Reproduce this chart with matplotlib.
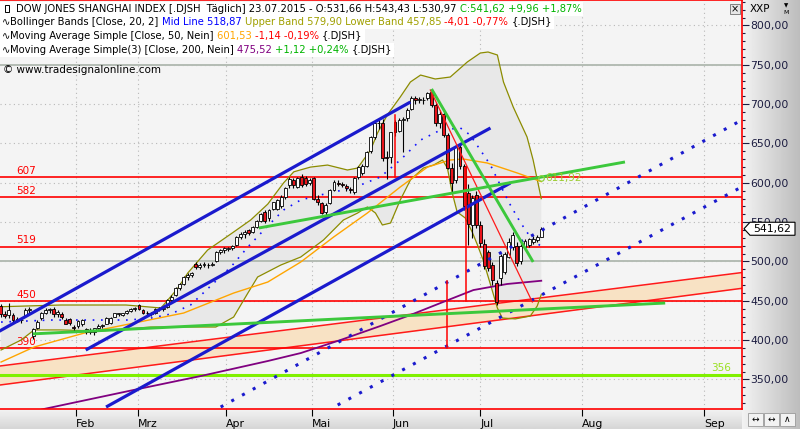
import matplotlib

matplotlib.use("Agg")

import matplotlib.pyplot as plt  # noqa: E402
import matplotlib.ticker as mticker  # noqa: E402
import numpy as np  # noqa: E402
from matplotlib.patches import Polygon, Rectangle  # noqa: E402

plt.rcParams["font.family"] = ["DejaVu Sans"]

W, H = 800, 429

# Daily sessions, index 0 = 05.01.2015; first visible session is index 2.
first_session = 2
opens = [
    443, 433, 432, 432, 427, 425, 432, 438, 405, 416,
    428, 435, 438, 440, 433, 433, 426, 427, 417, 418,
    420, 414, 411, 410, 416, 418, 421, 422, 430, 433,
    432, 434, 437, 439, 445, 438, 435, 434, 434, 440,
    439, 442, 451, 457, 466, 472, 480, 483, 497, 493,
    496, 495, 496, 500, 512, 514, 516, 517, 521, 531,
    535, 540, 538, 544, 552, 563, 555, 567, 567, 570,
    582, 597, 603, 595, 608, 606, 600, 606, 580, 574,
    563, 574, 591, 600, 598, 596, 592, 588, 607, 612,
    622, 640, 658, 676, 676, 633, 633, 677, 666, 680,
    682, 694, 708, 705, 705, 708, 715, 699, 676, 688,
    661, 619, 604, 646, 621, 587, 546, 584, 546, 522,
    512, 496, 473, 479, 487, 506, 518, 520, 501, 519,
    521, 525, 527, 531.66,
]
highs = [
    446, 437, 447, 434, 429, 428, 441, 442, 416, 425,
    436, 441, 441, 442, 438, 436, 428, 428, 419, 426,
    427, 416, 415, 416, 420, 420, 429, 430, 435, 435,
    435, 438, 441, 442, 446, 440, 437, 436, 441, 442,
    443, 452, 457, 467, 473, 481, 485, 487, 499, 498,
    499, 498, 499, 513, 516, 518, 519, 521, 532, 537,
    540, 541, 545, 553, 562, 565, 567, 576, 579, 584,
    595, 608, 606, 608, 611, 609, 606, 608, 584, 576,
    574, 592, 603, 603, 601, 598, 595, 607, 622, 624,
    640, 659, 677, 680, 681, 640, 665, 680, 683, 684,
    695, 710, 711, 709, 709, 716, 718, 702, 692, 692,
    663, 625, 648, 650, 624, 598, 585, 590, 552, 528,
    515, 499, 476, 510, 512, 530, 537, 525, 522, 529,
    530, 532, 534, 543.43,
]
lows = [
    430, 428, 428, 423, 423, 422, 430, 435, 402, 414,
    426, 433, 435, 430, 430, 427, 420, 419, 410, 416,
    418, 408, 408, 407, 414, 416, 420, 421, 429, 431,
    431, 433, 436, 437, 438, 433, 432, 431, 433, 437,
    437, 441, 449, 456, 464, 470, 477, 480, 490, 491,
    493, 492, 494, 499, 509, 511, 513, 515, 520, 528,
    530, 534, 536, 542, 550, 549, 552, 565, 565, 568,
    580, 594, 594, 593, 595, 596, 597, 578, 572, 560,
    558, 573, 589, 596, 595, 590, 587, 586, 605, 610,
    620, 638, 656, 668, 628, 605, 625, 660, 664, 639,
    678, 692, 700, 701, 700, 705, 697, 672, 670, 658,
    617, 587, 600, 618, 566, 521, 530, 543, 518, 490,
    488, 470, 445, 470, 484, 504, 515, 494, 497, 515,
    518, 522, 525, 530.97,
]
closes = [
    433, 431, 438, 426, 426, 426, 438, 439, 414, 423,
    434, 438, 439, 433, 436, 430, 421, 422, 415, 424,
    425, 410, 413, 415, 418, 419, 428, 428, 434, 434,
    434, 437, 440, 441, 440, 435, 434, 433, 440, 439,
    441, 451, 455, 466, 472, 480, 483, 485, 493, 496,
    497, 496, 497, 512, 514, 517, 517, 520, 531, 535,
    537, 536, 544, 552, 561, 552, 565, 575, 578, 582,
    593, 605, 597, 606, 597, 598, 604, 580, 575, 562,
    572, 591, 601, 599, 597, 593, 591, 606, 620, 622,
    639, 658, 676, 676, 631, 631, 664, 664, 680, 680,
    693, 708, 705, 706, 705, 714, 699, 676, 688, 661,
    619, 600, 646, 621, 570, 548, 581, 546, 524, 494,
    492, 476, 449, 507, 510, 525, 534, 498, 520, 526,
    528, 529, 531.66, 541.62,
]

# Bollinger (20, 2) and simple moving averages, sampled along the chart
bb_upper_x = [2.06, 16.8, 32.8, 41.4, 43.1, 45.6, 48.0, 52.9, 55.4, 59.3, 63.5, 67.7,
              71.6, 74.1, 78.2, 82.4, 87.3, 89.8, 93.0, 94.7, 97.1, 100.3, 102.8,
              105.3, 108.9, 112.6, 116.8, 120.0, 121.9, 124.2, 125.7, 128.1, 131.5,
              133.0, 135.0]
bb_upper_v = [442.5, 444.7, 444.7, 440.9, 451.0, 466.3, 485.3, 514.6, 523.5, 537.5,
              552.8, 573.0, 600.0, 614.0, 620.0, 622.6, 616.3, 618.8, 641.7, 663.3,
              686.2, 709.1, 728.2, 737.0, 732.0, 734.5, 753.6, 765.0, 766.3, 762.5,
              728.2, 696.4, 658.3, 629.0, 579.90]
bb_lower_x = [2.06, 7.0, 10.2, 16.8, 26.6, 38.9, 54.9, 59.3, 62.8, 65.2, 70.9, 75.8,
              81.4, 86.3, 89.8, 92.2, 94.2, 95.9, 97.9, 100.3, 102.8, 106.0, 108.5,
              110.7, 111.9, 113.1, 114.3, 116.3, 118.0, 119.3, 120.7, 122.9, 124.2,
              125.4, 128.6, 132.3, 134.0, 135.0]
bb_lower_v = [387.5, 400.2, 413.0, 413.0, 411.6, 416.7, 416.7, 429.4, 459.9, 480.3,
              495.5, 505.7, 527.3, 552.7, 561.6, 569.3, 561.6, 546.4, 548.9, 578.1,
              603.6, 618.8, 622.6, 629.0, 618.8, 587.0, 562.9, 555.3, 537.5, 521.0,
              501.9, 463.8, 440.9, 428.2, 427.0, 430.7, 443.4, 457.85]
bb_mid_x = [2.06, 14.3, 33.3, 38.9, 43.8, 48.7, 54.4, 58.6, 62.8, 67.2, 71.6, 75.8,
            80.7, 86.3, 90.5, 95.4, 100.3, 105.3, 110.2, 115.1, 117.5, 120.0, 122.5,
            124.9, 127.4, 129.8, 132.3, 135.0]
bb_mid_v = [423.0, 425.6, 425.6, 428.0, 433.2, 444.7, 472.6, 493.0, 518.4, 542.6,
            565.5, 578.2, 584.6, 591.0, 597.2, 607.4, 629.0, 654.4, 667.1, 669.7,
            660.8, 641.7, 622.6, 597.2, 571.8, 550.2, 531.1, 518.87]
ma50_x = [2.06, 10.2, 22.5, 34.7, 47.0, 59.3, 67.7, 75.8, 83.9, 92.2, 100.3, 107.0,
          112.6, 115.8, 121.7, 129.1, 135.0]
ma50_v = [372.2, 391.3, 409.0, 421.7, 434.5, 459.9, 473.9, 499.3, 531.1, 561.6,
          594.7, 620.0, 629.0, 630.3, 625.2, 612.5, 601.53]
ma200_x = [10.0, 12.6, 34.7, 51.2, 67.7, 75.8, 85.6, 95.4, 102.8, 110.2, 118.3,
           126.6, 135.0]
ma200_v = [309.0, 312.5, 336.7, 354.4, 373.5, 383.6, 400.2, 418.0, 432.0, 447.2,
           463.7, 471.4, 475.52]

# Drawn studies: (x0, v0, x1, v1) in session index / index points
blue_channel = [(0.0, 406.7, 102.8, 702.7),
                (22.9, 387.5, 122.5, 669.7),
                (27.9, 315.0, 127.4, 599.8)]
blue_dotted = [(56.1, 315.0, 184.4, 680.0),
               (84.9, 317.6, 184.4, 595.0)]
green_trends = [(9.9, 408.0, 165.5, 447.2),
                (65.5, 542.6, 155.6, 626.5),
                (108.0, 719.3, 133.0, 499.4)]
red_trend = (107.7, 718.0, 132.8, 448.5)
red_verticals = [(98.9, 607.0, 686.0), (116.6, 450.0, 620.0), (111.9, 390.0, 475.0)]
band_upper = (0.0, 366.0, 186.0, 487.0)
band_lower = (0.0, 341.8, 186.0, 467.0)
level_values = [607, 582, 519, 450, 390]
gray_levels = [750, 500]
support_level = 356
green_trend_value = 611.92

month_labels = ["Feb", "Mrz", "Apr", "Mai", "Jun", "Jul", "Aug", "Sep"]
month_pos = [20.5, 35.7, 57.5, 78.5, 98.4, 120.0, 145.0, 175.0]

fig = plt.figure(figsize=(W / 100, H / 100), dpi=100)
fig.patch.set_facecolor("white")

# right price-scale panel and bottom time panel
ax_r = fig.add_axes([742 / W, 0, 58 / W, 1])
ax_r.imshow(np.linspace(0.95, 0.74, 64)[None, :], cmap="gray", vmin=0, vmax=1,
            aspect="auto", extent=[0, 1, 0, 1])
ax_r.set_axis_off()
ax_b = fig.add_axes([0, 0, 742 / W, 20 / H])
ax_b.imshow(np.linspace(0.84, 0.95, 32)[:, None], cmap="gray", vmin=0, vmax=1,
            aspect="auto", extent=[0, 1, 0, 1], origin="lower")
ax_b.set_axis_off()

ax = fig.add_axes([0, 20 / H, 742 / W, 409 / H])
ax.set_zorder(3)
ax.set_facecolor("#f4f4f4")
ax.set_xlim(1.8, 184.4)
ax.set_ylim(312.5, 832.4)

# grid
for v in range(350, 801, 50):
    ax.axhline(v, color="#b8b8b8", lw=0.8, ls=(0, (1, 3)), zorder=0.5)
for p in month_pos:
    ax.axvline(p, color="#b8b8b8", lw=0.8, ls=(0, (1, 3)), zorder=0.5)

# Bollinger envelope
env = list(zip(bb_upper_x, bb_upper_v)) + list(zip(bb_lower_x[::-1], bb_lower_v[::-1]))
ax.add_patch(Polygon(env, closed=True, fc="#e8e8e8", ec="none", zorder=0.8))

# sloped band with fill
bx = np.array([band_upper[0], band_upper[2]])
ax.fill_between(bx, [band_lower[1], band_lower[3]], [band_upper[1], band_upper[3]],
                color="#f8e2c4", lw=0, zorder=1)
ax.plot(bx, [band_upper[1], band_upper[3]], color="#ff1a1a", lw=1.1, zorder=1.2)
ax.plot(bx, [band_lower[1], band_lower[3]], color="#ff1a1a", lw=1.1, zorder=1.2)

for v in gray_levels:
    ax.axhline(v, color="#b4bcb4", lw=1.4, zorder=1.1)
for v in level_values:
    ax.axhline(v, color="#ff0000", lw=1.2, zorder=1.3)
    ax.text(5.8, v + 1.5, str(v), color="#ff0000", fontsize=7.5, ha="left", va="bottom",
            zorder=1.3)
ax.axhline(support_level, color="#80f000", lw=2.2, zorder=1.3)
ax.text(176.8, support_level + 2, str(support_level), color="#99e020", fontsize=7.5,
        ha="left", va="bottom")

ax.plot(bb_upper_x, bb_upper_v, color="#8c8c00", lw=0.9, zorder=2)
ax.plot(bb_lower_x, bb_lower_v, color="#8c8c00", lw=0.9, zorder=2)
ax.plot(bb_mid_x, bb_mid_v, color="#1010ff", lw=1.2, ls=(0, (1, 4)), zorder=2)
ax.plot(ma50_x, ma50_v, color="#ffa500", lw=1.0, zorder=2)
ax.plot(ma200_x, ma200_v, color="#800080", lw=1.3, zorder=2)

# candles
x = np.arange(len(closes)) + first_session
o, h, l, c = (np.array(a, dtype=float) for a in (opens, highs, lows, closes))
ax.vlines(x, l, h, color="black", lw=0.8, zorder=3)
up = c >= o
body = np.maximum(np.abs(c - o), 0.6)
ax.bar(x, body, bottom=np.minimum(o, c), width=0.72,
       color=np.where(up, "white", "#e8141b"), edgecolor="black", linewidth=0.6, zorder=3.1)

for x0, y0, x1, y1 in blue_channel:
    ax.plot([x0, x1], [y0, y1], color="#1a1acd", lw=2.3, zorder=4, solid_capstyle="butt")
for x0, y0, x1, y1 in blue_dotted:
    ax.plot([x0, x1], [y0, y1], color="#1a1acd", lw=2.2, ls=(0, (1, 3)), zorder=4)
for x0, y0, x1, y1 in green_trends:
    ax.plot([x0, x1], [y0, y1], color="#3cc83c", lw=2.1, zorder=4.1, solid_capstyle="butt")
ax.plot(red_trend[::2], red_trend[1::2], color="#ff1a1a", lw=0.9, zorder=4)
for xv, v0, v1 in red_verticals:
    ax.plot([xv, xv], [v0, v1], color="#ff0000", lw=1.1, zorder=4)

ax.plot([x[-1]], [605.5], marker="o", ms=4, mfc="none", mec="#8cd23c", mew=0.9, zorder=5)
ax.text(x[-1] + 0.9, 605.5, f"{green_trend_value:.2f}".replace(".", ","), color="#9ccc30",
        fontsize=7.5, ha="left", va="center", zorder=5)

# axes frame and scales
for side in ("left",):
    ax.spines[side].set_visible(False)
for side in ("right", "bottom", "top"):
    ax.spines[side].set_color("#ff0000")
    ax.spines[side].set_linewidth(1.2)
ax.yaxis.tick_right()
ax.yaxis.set_major_locator(mticker.MultipleLocator(50))
ax.yaxis.set_minor_locator(mticker.MultipleLocator(10))
ax.yaxis.set_major_formatter(mticker.FuncFormatter(lambda v, _p: f"{v:.2f}".replace(".", ",")))
ax.tick_params(axis="y", which="major", length=5, width=0.8, pad=1, labelsize=7.8,
               colors="#1c1c40")
ax.tick_params(axis="y", which="minor", length=2.5, width=0.8, colors="#1c1c40")
ax.set_xticks(month_pos)
ax.set_xticklabels(month_labels)
ax.tick_params(axis="x", length=5, width=0.8, pad=2, labelsize=7.8, colors="black")
for lbl in ax.get_xticklabels():
    lbl.set_ha("left")

# last-price tag on the scale
fig.canvas.draw()
last_y = ax.transData.transform((x[-1], c[-1]))[1] / fig.bbox.height
hh = 6.5 / H
tag = [(744 / W, last_y), (750 / W, last_y + hh), (795 / W, last_y + hh),
       (795 / W, last_y - hh), (750 / W, last_y - hh)]
fig.patches.append(Polygon(tag, closed=True, fc="white", ec="black", lw=0.8,
                           transform=fig.transFigure, zorder=6))
fig.text(772 / W, last_y, f"{c[-1]:.2f}".replace(".", ","), fontsize=7.8, ha="center",
         va="center", zorder=7)

fig.text(750 / W, 1 - 9 / H, "XXP", fontsize=7.5, va="center", zorder=7)
fig.text(786 / W, 1 - 6 / H, "▼", fontsize=4, ha="center", va="center", zorder=7)
fig.text(786 / W, 1 - 13 / H, "M", fontsize=4.5, ha="center", va="center", zorder=7)
for k, sym in enumerate(["↔", "↔", "∧"]):
    x0 = 748 + k * 16
    fig.patches.append(Rectangle((x0 / W, 1 - 426 / H), 15 / W, 13 / H, fc="#f2f2f2",
                                 ec="#9a9a9a", lw=0.6, transform=fig.transFigure, zorder=6))
    fig.text((x0 + 7.5) / W, 1 - 419.5 / H, sym, fontsize=6.5, ha="center", va="center",
             zorder=7)
fig.patches.append(Rectangle((730 / W, 1 - 14 / H), 10 / W, 10 / H, fc="#e6e6e6",
                             ec="#707070", lw=0.6, transform=fig.transFigure, zorder=6))
fig.text(735 / W, 1 - 9 / H, "×", fontsize=7, ha="center", va="center", zorder=7)

# study legend lines
renderer = fig.canvas.get_renderer()


def draw_runs(x_px, y_px, runs, size=7.2):
    x_cur = x_px
    for text, color in runs:
        t = fig.text(x_cur / W, 1 - y_px / H, text, color=color, fontsize=size,
                     ha="left", va="center", zorder=8)
        x_cur += t.get_window_extent(renderer).width
    fig.patches.append(Rectangle((0, 1 - (y_px + 7) / H), (x_cur + 2) / W, 14 / H,
                                 fc="white", ec="none", transform=fig.transFigure, zorder=6))


black, green, red = "black", "#00b400", "#ff0000"
draw_runs(16, 9, [("DOW JONES SHANGHAI INDEX [.DJSH  Täglich] 23.07.2015 - O:531,66 "
                   "H:543,43 L:530,97 ", black), ("C:541,62 +9,96 +1,87%", green)])
draw_runs(2, 22, [("∿", black), ("Bollinger Bands [Close, 20, 2] ", black),
                  ("Mid Line 518,87 ", "#0000ff"),
                  ("Upper Band 579,90 Lower Band 457,85 ", "#a0a000"),
                  ("-4,01 -0,77% ", red), ("{.DJSH}", black)])
draw_runs(2, 36, [("∿", black), ("Moving Average Simple [Close, 50, Nein] ", black),
                  ("601,53 ", "#ffa500"), ("-1,14 -0,19% ", red), ("{.DJSH}", black)])
draw_runs(2, 50, [("∿", black), ("Moving Average Simple(3) [Close, 200, Nein] ", black),
                  ("475,52 ", "#800080"), ("+1,12 +0,24% ", green), ("{.DJSH}", black)])
# candle glyph in front of the symbol line
fig.patches.append(Rectangle((5 / W, 1 - 12 / H), 4 / W, 7 / H, fc="white", ec="black",
                             lw=0.7, transform=fig.transFigure, zorder=9))
fig.text(3 / W, 1 - 70 / H, "© www.tradesignalonline.com", fontsize=7.5, va="center",
         zorder=8)

fig.savefig("out.png", dpi=100)
